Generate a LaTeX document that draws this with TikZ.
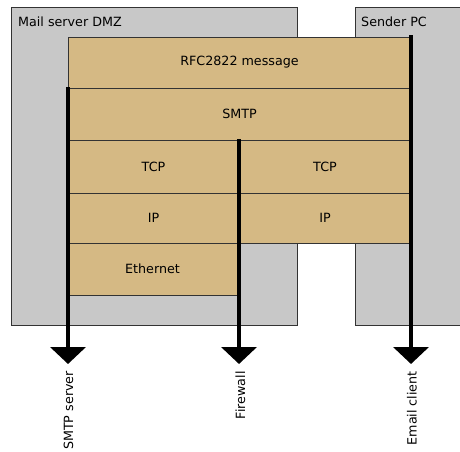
\documentclass[tikz,border=0pt]{standalone}
\usepackage{fontspec}
\setmainfont{DejaVu Sans}
\usetikzlibrary{arrows.meta}
\definecolor{zonegray}{HTML}{C8C8C8}
\definecolor{layertan}{HTML}{D5B984}
\definecolor{edgegray}{HTML}{333333}
\tikzset{
  zone/.style={draw=edgegray, fill=zonegray, line width=0.9pt},
  layer/.style={draw=edgegray, fill=layertan, line width=0.9pt, inner sep=0pt,
    font=\fontsize{12.7}{14}\selectfont},
  zonelabel/.style={anchor=base west, inner sep=0pt, font=\fontsize{12.7}{14}\selectfont},
  flow/.style={line width=4pt, -{Triangle[width=35pt,length=17pt]}},
  endlabel/.style={rotate=90, anchor=east, inner sep=0pt, font=\fontsize{12.7}{14}\selectfont}
}
\begin{document}
\begin{tikzpicture}[x=1pt,y=-1pt]
  \useasboundingbox (0,0) rectangle (460,451);
  \clip (0,0) rectangle (460,451);

  % network zones
  \draw[zone] (11,7) rectangle (297,325);
  \node[zonelabel] (dmz) at (18,26) {Mail server DMZ};
  \draw[zone] (355,7) rectangle (470,325);
  \node[zonelabel] (pc) at (361,26) {Sender PC};

  % protocol layers
  \node[layer, minimum width=343pt, minimum height=51pt] (msg) at (239.5,62.5) {RFC2822 message};
  \node[layer, minimum width=343pt, minimum height=52pt] (smtp) at (239.5,114) {SMTP};
  \node[layer, minimum width=171pt, minimum height=53pt] (tcpl) at (153.5,166.5) {TCP};
  \node[layer, minimum width=172pt, minimum height=53pt] (tcpr) at (325,166.5) {TCP};
  \node[layer, minimum width=171pt, minimum height=50pt] (ipl) at (153.5,218) {IP};
  \node[layer, minimum width=172pt, minimum height=50pt] (ipr) at (325,218) {IP};
  \node[layer, minimum width=169pt, minimum height=52pt] (eth) at (152.5,269) {Ethernet};

  % message paths through the stacks
  \coordinate (srvTop) at (68,87);
  \coordinate (srvEnd) at (68,364);
  \coordinate (fwTop) at (239,139);
  \coordinate (fwEnd) at (239,364);
  \coordinate (cliTop) at (411,35);
  \coordinate (cliEnd) at (411,364);
  \draw[flow] (srvTop) -- (srvEnd);
  \draw[flow] (fwTop) -- (fwEnd);
  \draw[flow] (cliTop) -- (cliEnd);

  \node[endlabel] (srv) at (68.5,371) {SMTP server};
  \node[endlabel] (fw) at (240.5,371) {Firewall};
  \node[endlabel] (cli) at (412,371) {Email client};
\end{tikzpicture}
\end{document}
